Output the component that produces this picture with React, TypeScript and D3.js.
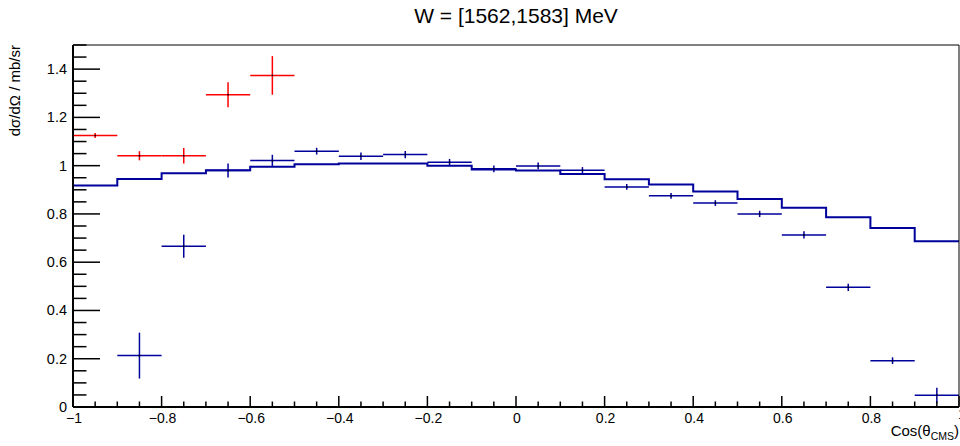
import React from "react";
import * as d3 from "d3";

const binEdges = d3.range(21).map((i) => -1 + i * 0.1);
const modelVals = [0.918, 0.945, 0.969, 0.981, 0.996, 1.006, 1.009, 1.009, 1.0, 0.984, 0.98, 0.965, 0.944, 0.922, 0.893, 0.862, 0.826, 0.786, 0.742, 0.687];

const blueCenters = [-0.85, -0.75, -0.65, -0.55, -0.45, -0.35, -0.25, -0.15, -0.05, 0.05, 0.15, 0.25, 0.35, 0.45, 0.55, 0.65, 0.75, 0.85, 0.95];
const blueVals = [0.213, 0.666, 0.98, 1.021, 1.06, 1.039, 1.046, 1.014, 0.987, 0.999, 0.981, 0.912, 0.875, 0.845, 0.8, 0.713, 0.496, 0.192, 0.049];
const blueErr = [0.095, 0.048, 0.029, 0.024, 0.014, 0.016, 0.015, 0.014, 0.014, 0.014, 0.013, 0.012, 0.012, 0.012, 0.013, 0.015, 0.015, 0.014, 0.031];

const redCenters = [-0.95, -0.85, -0.75, -0.65, -0.55];
const redVals = [1.125, 1.041, 1.041, 1.294, 1.374];
const redErr = [0.01, 0.019, 0.032, 0.052, 0.08];

const xMajor = [-1, -0.8, -0.6, -0.4, -0.2, 0, 0.2, 0.4, 0.6, 0.8, 1];
const xLabels = ["\u22121", "\u22120.8", "\u22120.6", "\u22120.4", "\u22120.2", "0", "0.2", "0.4", "0.6", "0.8", "1"];
const yMajor = [0, 0.2, 0.4, 0.6, 0.8, 1, 1.2, 1.4];
const yLabels = ["0", "0.2", "0.4", "0.6", "0.8", "1", "1.2", "1.4"];

const title = "W = [1562,1583] MeV";
const FONT = "'Liberation Sans', Arial, Helvetica, sans-serif";
const BLUE = "#00009c";
const RED = "#ff0000";

export default function App() {
  const W = 960, H = 446;
  const left = 73, right = 959, top = 45, bottom = 407;
  const x = d3.scaleLinear().domain([-1, 1]).range([left, right]);
  const y = d3.scaleLinear().domain([0, 1.5]).range([bottom, top]);

  const stepPts: [number, number][] = modelVals.map((v, i) => [binEdges[i], v]);
  stepPts.push([binEdges[20], modelVals[19]]);
  const stepLine = d3
    .line<[number, number]>()
    .x((d) => x(d[0]))
    .y((d) => y(d[1]))
    .curve(d3.curveStepAfter)(stepPts) as string;

  const xMinor = d3.range(41).map((i) => -1 + i * 0.05);
  const yMinor = d3.range(31).map((i) => i * 0.05);

  const errPoint = (cx: number, v: number, e: number, color: string, key: string) => (
    <g key={key} stroke={color} strokeWidth={1.5}>
      <line x1={x(cx - 0.05)} x2={x(cx + 0.05)} y1={y(v)} y2={y(v)} />
      <line x1={x(cx)} x2={x(cx)} y1={y(v - e)} y2={y(v + e)} />
      <rect x={x(cx) - 0.75} y={y(v) - 0.75} width={1.5} height={1.5} fill="#000" stroke="none" />
    </g>
  );

  return (
    <svg width={W} height={H} style={{ position: "absolute", left: 0, top: 0, background: "#fff" }} fontFamily={FONT}>
      <rect x={0} y={0} width={W} height={H} fill="#fff" />
      <text x={516} y={23} fontSize={21} textAnchor="middle" fill="#000">{title}</text>

      {/* histogram model */}
      <path d={stepLine} fill="none" stroke={BLUE} strokeWidth={2} />

      {/* data */}
      {redCenters.map((c, i) => errPoint(c, redVals[i], redErr[i], RED, "r" + i))}
      {blueCenters.map((c, i) => errPoint(c, blueVals[i], blueErr[i], BLUE, "b" + i))}

      {/* frame */}
      <line x1={left} x2={right} y1={top} y2={top} stroke="#000" strokeWidth={1} />
      <line x1={right} x2={right} y1={top} y2={bottom} stroke="#000" strokeWidth={1} />
      <line x1={left} x2={left} y1={top} y2={bottom} stroke="#000" strokeWidth={2} />
      <line x1={left} x2={right} y1={bottom} y2={bottom} stroke="#000" strokeWidth={2} />

      {/* x ticks */}
      {xMinor.map((t, i) => {
        const major = i % 4 === 0;
        return (
          <line key={"xt" + i} x1={x(t)} x2={x(t)} y1={bottom} y2={bottom - (major ? 11 : 5.5)} stroke="#000" strokeWidth={1.5} />
        );
      })}
      {xMajor.map((t, i) => (
        <text key={"xl" + i} x={x(t) + (t === 1 ? 3 : 1)} y={t === 1 ? 419 : 423} fontSize={14} textAnchor="middle" fill="#000">{xLabels[i]}</text>
      ))}

      {/* y ticks */}
      {yMinor.map((t, i) => {
        const major = i % 4 === 0;
        return (
          <line key={"yt" + i} x1={left} x2={left + (major ? 27 : 13.5)} y1={y(t)} y2={y(t)} stroke="#000" strokeWidth={1.5} />
        );
      })}
      {yMajor.map((t, i) => (
        <text key={"yl" + i} x={67} y={y(t) + 5} fontSize={14.5} textAnchor="end" fill="#000">{yLabels[i]}</text>
      ))}

      {/* axis titles */}
      <text transform="translate(20,45) rotate(-90)" fontSize={15} textAnchor="end" fill="#000">dσ/dΩ / mb/sr</text>
      <text x={959} y={436} fontSize={15} textAnchor="end" fill="#000">
        Cos(θ<tspan fontSize={10.5} dy={4}>CMS</tspan><tspan dy={-4}>)</tspan>
      </text>
    </svg>
  );
}
